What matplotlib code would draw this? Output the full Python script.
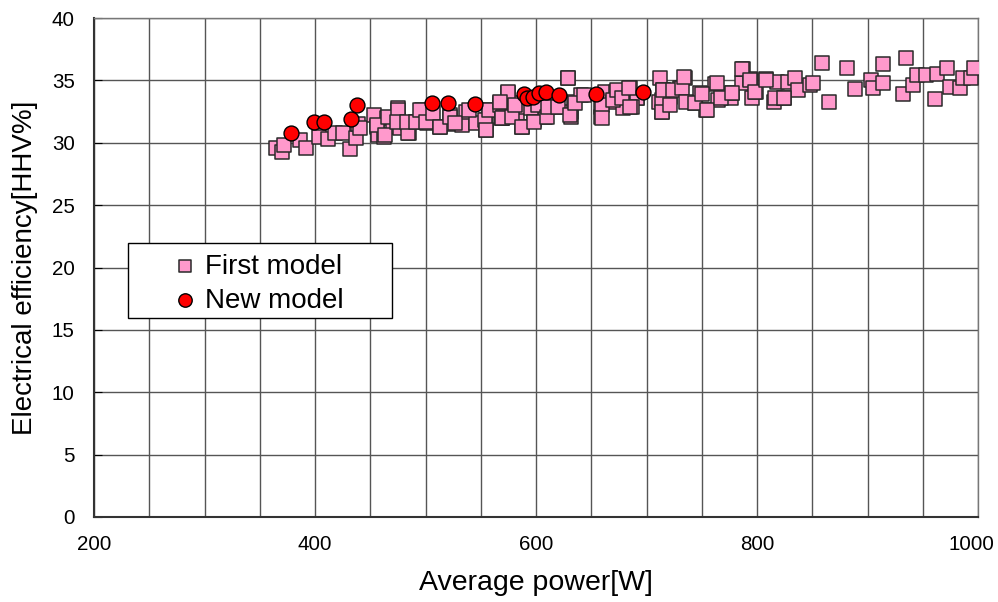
import numpy as np
import matplotlib
matplotlib.use('Agg')
import matplotlib.pyplot as plt
from matplotlib.ticker import MultipleLocator
from matplotlib.patches import Rectangle

plt.rcParams['font.family'] = ['Liberation Sans', 'DejaVu Sans']

# First model (pink squares): average power [W], efficiency [HHV%]
first_power = [
    365, 370, 372, 386, 392, 404, 412, 418, 425, 432, 437, 439, 441,
    453, 456, 457, 462, 465, 471, 475, 475, 477, 484, 485, 491, 497, 501,
    513, 522, 525, 533, 537, 546, 555, 555, 558, 567, 569, 574, 575, 580,
    583, 587, 589, 598, 604, 608, 611, 617, 629, 632, 632, 634, 641, 659,
    659, 662, 670, 672, 679, 682, 685, 691,
    712, 715, 714, 711, 691, 687, 730, 735, 744, 748, 754, 721, 762, 765,
    776, 777, 786, 787, 794, 795, 799, 808, 818, 815, 824, 828, 834, 837,
    848, 851, 859, 865, 881, 889, 903, 905, 914, 914, 932, 935, 941, 945,
    953, 961, 963, 972, 975, 984, 986, 994, 996,
    456, 463, 466, 475, 474, 484, 483, 491, 495, 500, 507, 513, 522, 527,
    539, 554, 555, 557, 569, 567,
    575, 567, 570, 569, 578, 581, 587, 595, 598, 602, 610, 611, 620, 629,
    631, 635, 643, 660, 660, 670, 673, 678, 684, 685,
    714, 715, 714, 724, 721, 732, 734, 736, 744, 750, 755, 764, 767, 777,
    786, 794, 798, 808, 816, 824,
]
first_eff = [
    29.6, 29.3, 29.8, 30.2, 29.6, 30.5, 30.3, 30.8, 30.8, 29.5, 30.4, 31.5, 31.2,
    32.2, 31.3, 30.6, 30.5, 32.0, 31.3, 32.8, 31.8, 31.2, 31.6, 30.8, 31.7, 32.6, 31.6,
    31.3, 32.2, 31.5, 31.4, 32.5, 31.6, 31.8, 31.0, 32.6, 33.2, 32.0, 32.8, 34.0, 33.2,
    32.2, 31.3, 32.9, 31.8, 32.9, 32.1, 32.9, 32.9, 35.2, 32.5, 32.1, 33.3, 33.8, 32.9,
    32.1, 34.1, 33.3, 34.1, 32.8, 33.7, 34.4, 33.6,
    35.2, 34.2, 32.5, 33.3, 33.6, 32.9, 34.4, 35.2, 33.2, 34.0, 32.6, 33.7, 34.7, 33.4,
    33.6, 34.0, 34.8, 35.9, 35.1, 33.6, 34.1, 35.1, 34.9, 33.3, 33.6, 34.9, 35.2, 34.2,
    34.6, 34.8, 36.4, 33.3, 36.0, 34.3, 35.0, 34.4, 34.8, 36.3, 33.9, 36.8, 34.6, 35.4,
    35.4, 33.5, 35.5, 36.0, 34.5, 34.4, 35.2, 35.2, 36.0,
    31.4, 30.6, 32.1, 32.6, 31.7, 30.8, 31.7, 31.7, 32.6, 31.7, 32.4, 31.3, 32.1, 31.6,
    32.6, 31.8, 31.0, 32.6, 32.0, 33.0,
    34.1, 33.3, 32.1, 32.0, 32.1, 33.0, 31.3, 32.8, 31.7, 33.0, 32.1, 32.9, 32.9, 35.2,
    32.2, 33.2, 33.8, 33.0, 32.0, 33.4, 34.2, 33.6, 34.4, 32.9,
    33.4, 34.2, 32.5, 34.2, 33.0, 34.4, 35.3, 33.3, 33.2, 33.9, 32.6, 34.8, 33.6, 34.0,
    35.9, 35.0, 34.1, 35.0, 33.6, 33.6,
]

# New model (red circles)
new_power = [378, 399, 408, 433, 438, 506, 520, 545, 589, 592, 597, 603, 609, 621, 654, 697]
new_eff = [30.8, 31.7, 31.7, 31.9, 33.0, 33.2, 33.2, 33.1, 33.9, 33.6, 33.7, 34.0, 34.1, 33.8, 33.9, 34.1]

x_ticks = [200, 400, 600, 800, 1000]

fig = plt.figure(figsize=(9.98, 6.02), dpi=100)
ax = fig.add_axes([0.0942, 0.1412, 0.8858, 0.8288])

ax.scatter(first_power, first_eff, marker='s', s=95, facecolor='#ff99cc',
           edgecolor='#2a2a2a', linewidth=1.1, label='First model', zorder=3)
ax.scatter(new_power, new_eff, marker='o', s=115, facecolor='#ff0000',
           edgecolor='black', linewidth=1.0, label='New model', zorder=4)

ax.set_xlim(200, 1000)
ax.set_ylim(0, 40)
ax.set_xticks(x_ticks)
ax.xaxis.set_minor_locator(MultipleLocator(50))
ax.yaxis.set_major_locator(MultipleLocator(5))
ax.grid(True, which='both', axis='x', color='#555555', linewidth=1.0, zorder=1)
ax.grid(True, which='major', axis='y', color='#555555', linewidth=1.0, zorder=1)
ax.set_axisbelow(True)
ax.tick_params(axis='both', which='both', direction='in', labelsize=14.8)
ax.tick_params(axis='x', which='both', length=0, labelbottom=False)
ax.tick_params(axis='y', pad=14, length=6)
for side in ['left', 'bottom']:
    ax.spines[side].set_color('#333333')
    ax.spines[side].set_linewidth(1.5)
for side in ['top', 'right']:
    ax.spines[side].set_color('#777777')
    ax.spines[side].set_linewidth(1.0)

# x tick labels; the last one is nudged left to stay inside the figure
for i, xv in enumerate(x_ticks):
    dx = -7 if xv == x_ticks[-1] else 0
    ax.annotate(str(xv), xy=(xv, 0), xycoords=('data', 'axes fraction'),
                xytext=(dx, -28), textcoords='offset pixels',
                ha='center', va='center', fontsize=14.8)

ax.set_xlabel('Average power[W]', fontsize=20.5)
ax.xaxis.set_label_coords(0.5, -0.106)
ax.set_ylabel('Electrical efficiency[HHV%]', fontsize=20, labelpad=10)

# legend box (wider than its content, as in the original)
ax.add_patch(Rectangle((0.0385, 0.3988), 0.2985, 0.1503, transform=ax.transAxes,
                       facecolor='white', edgecolor='black', linewidth=1.0, zorder=5))
leg = ax.legend(loc='upper left', bbox_to_anchor=(0.087, 0.528), borderaxespad=0,
                fontsize=20, frameon=False, markerscale=0.9, handletextpad=0.22,
                borderpad=0, labelspacing=0.29, handlelength=1.0)
leg.set_zorder(6)

fig.savefig('out.png', dpi=100)
